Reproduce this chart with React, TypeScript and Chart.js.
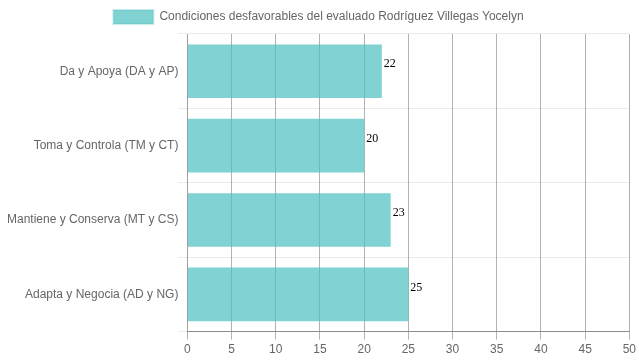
import React, { useEffect, useRef } from "react";
import { Chart, registerables } from "chart.js";

Chart.register(...registerables);

const categories = [
  "Da y Apoya (DA y AP)",
  "Toma y Controla (TM y CT)",
  "Mantiene y Conserva (MT y CS)",
  "Adapta y Negocia (AD y NG)",
];
const values = [22, 20, 23, 25];
const seriesLabel = "Condiciones desfavorables del evaluado Rodríguez Villegas Yocelyn";
const xMin = 0;
const xMax = 50;
const xStep = 5;

const valueLabels = {
  id: "valueLabels",
  afterDatasetsDraw(chart: any) {
    const ctx = chart.ctx;
    ctx.save();
    ctx.font = "12px 'Liberation Serif', 'Times New Roman', serif";
    ctx.fillStyle = "#000";
    ctx.textAlign = "left";
    ctx.textBaseline = "middle";
    chart.data.datasets.forEach((ds: any, i: number) => {
      const meta = chart.getDatasetMeta(i);
      meta.data.forEach((bar: any, j: number) => {
        ctx.fillText(String(ds.data[j]), bar.x + 2, bar.y - 7);
      });
    });
    ctx.restore();
  },
};

export default function App() {
  const ref = useRef<HTMLCanvasElement>(null);
  useEffect(() => {
    document.body.style.margin = "0";
    Chart.defaults.font.family = "Arial, 'Liberation Sans', sans-serif";
    Chart.defaults.font.size = 12;
    Chart.defaults.color = "#666";
    const chart = new Chart(ref.current!, {
      type: "bar",
      data: {
        labels: categories,
        datasets: [
          {
            label: seriesLabel,
            data: values,
            backgroundColor: "rgba(75, 192, 192, 0.7)",
            borderWidth: 0,
          },
        ],
      },
      options: {
        indexAxis: "y",
        animation: false,
        responsive: true,
        maintainAspectRatio: false,
        layout: { padding: { right: 9, left: 7, top: 0, bottom: 0 } },
        plugins: {
          legend: {
            labels: {
              boxWidth: 40,
              boxHeight: 14,
              font: { size: 12 },
              color: "#666",
              generateLabels: () => [
                {
                  text: seriesLabel,
                  fillStyle: "rgba(75, 192, 192, 0.7)",
                  strokeStyle: "rgba(75, 192, 192, 0.3)",
                  lineWidth: 2,
                  datasetIndex: 0,
                  fontColor: "#666",
                },
              ],
            },
          },
          tooltip: { enabled: false },
        },
        scales: {
          x: {
            min: xMin,
            max: xMax,
            ticks: { stepSize: xStep, color: "#666", font: { size: 12 } },
            grid: { color: "rgba(0,0,0,0.3)", tickLength: 8 },
            border: { color: "rgba(0,0,0,0.4)" },
          },
          y: {
            ticks: { color: "#666", font: { size: 12 }, padding: 0 },
            grid: { color: "rgba(0,0,0,0.08)", tickLength: 9 },
            border: { color: "rgba(0,0,0,0.1)" },
          },
        },
      },
      plugins: [valueLabels],
    });
    return () => chart.destroy();
  }, []);
  return (
    <div style={{ position: "fixed", left: 0, top: 0, width: 639, height: 360 }}>
      <canvas ref={ref} />
    </div>
  );
}
